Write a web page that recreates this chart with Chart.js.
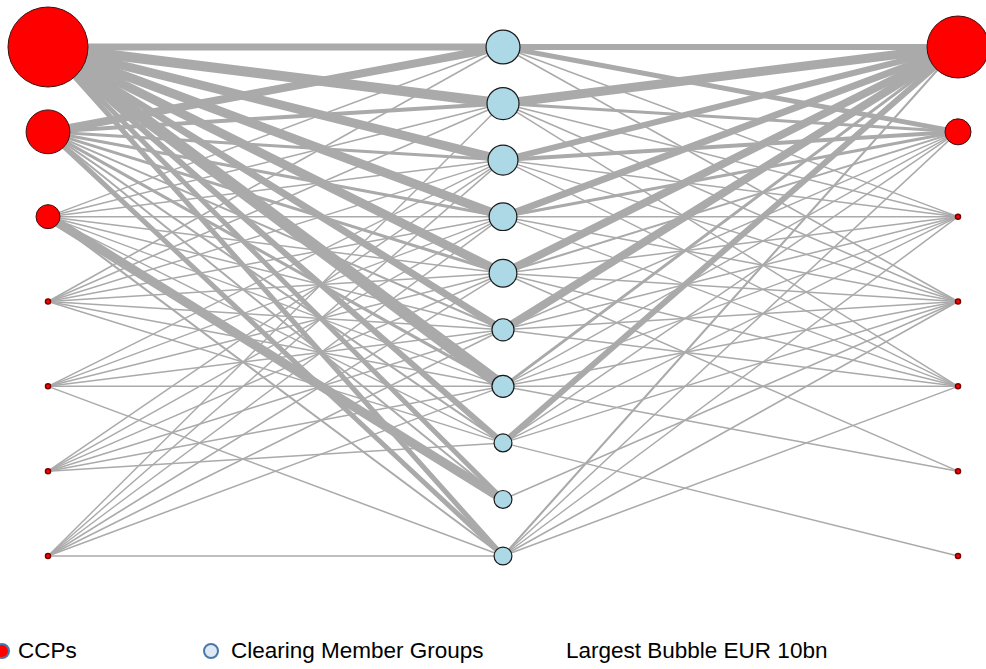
<!DOCTYPE html>
<html>
<head>
<meta charset="utf-8">
<script src="https://cdn.jsdelivr.net/npm/chart.js@4"></script>
<style>
  html, body { margin: 0; padding: 0; background: #fff; }
  #wrap { position: relative; width: 986px; height: 669px; overflow: hidden; }
  #net { position: absolute; left: 0; top: 0; }
  .lg { position: absolute; top: 639px; font-family: "Liberation Sans", Arial, sans-serif; font-size: 22.5px; color: #000; white-space: nowrap; line-height: 24px; }
  .dot { position: absolute; top: 643px; width: 16px; height: 16px; border-radius: 50%; box-sizing: border-box; border: 2px solid #4a78a8; }
</style>
</head>
<body>
<div id="wrap">
  <canvas id="net" width="986" height="600"></canvas>
  <div class="dot" style="left:-6px; background:#ff0000;"></div>
  <div class="lg" style="left:18px;">CCPs</div>
  <div class="dot" style="left:203px; background:#dfe9f5;"></div>
  <div class="lg" style="left:231px;">Clearing Member Groups</div>
  <div class="lg" style="left:566px;">Largest Bubble EUR 10bn</div>
</div>
<script>
// node sizes, EUR bn (largest bubble = 10bn)
const leftCCPs = [10, 3.0, 0.9, 0.04, 0.04, 0.04, 0.04];
const memberGroups = [1.8, 1.6, 1.4, 1.2, 1.2, 0.76, 0.76, 0.5, 0.5, 0.5];
const rightCCPs = [6.0, 1.06, 0.04, 0.04, 0.04, 0.04, 0.04];

// link weights, rows = CCP, columns = clearing member group (0 = no link)
const leftLinks = [
  [7, 10, 9, 9, 9, 7, 12, 6, 5, 5],
  [8, 4, 3, 3, 3, 2, 3, 2, 2, 5],
  [1.5, 1.5, 1.5, 1.5, 1.5, 1.5, 1.5, 1.5, 9, 2],
  [1.5, 1.5, 1.5, 1.5, 1.5, 1.5, 1.5, 1.5, 0, 0],
  [0, 0, 1.5, 1.5, 1.5, 1.5, 1.5, 0, 0, 1.5],
  [0, 0, 1.5, 1.5, 1.5, 1.5, 1.5, 1.5, 0, 0],
  [0, 1.5, 1.5, 1.5, 1.5, 1.5, 1.5, 0, 0, 1.5]
];
const rightLinks = [
  [6, 9, 6, 7, 8, 8, 3, 6, 0, 2],
  [5, 3, 4, 3, 2, 1.5, 1.5, 1.5, 0, 1.5],
  [1.5, 1.5, 1.5, 1.5, 1.5, 1.5, 1.5, 1.5, 0, 1.5],
  [1.5, 1.5, 1.5, 1.5, 1.5, 1.5, 1.5, 1.5, 1.5, 1.5],
  [0, 1.5, 1.5, 1.5, 1.5, 1.5, 1.5, 0, 0, 1.5],
  [0, 0, 0, 0, 1.5, 0, 1.5, 0, 0, 0],
  [0, 0, 0, 0, 0, 0, 0, 1.5, 0, 0]
];

const EDGE = "#aaaaaa";
const ccpRow = i => i * 1.5;   // 7 CCP rows spread over the 10 member rows
const radius = v => 40 * Math.sqrt(v / 10);

const datasets = [];

// ===== Links =====
function addLinks(links, side) {
  links.forEach((row, i) => {
    row.forEach((w, j) => {
      if (!w) return;
      datasets.push({
        type: "line",
        data: [{ x: side, y: ccpRow(i) }, { x: 1, y: j }],
        borderColor: EDGE,
        borderWidth: w,
        pointRadius: 0,
        fill: false,
        clip: false,
        order: 2
      });
    });
  });
}
addLinks(leftLinks, 0);
addLinks(rightLinks, 2);

// ===== Nodes =====
const ccpNodes = leftCCPs.map((v, i) => ({ x: 0, y: ccpRow(i), r: radius(v) }))
  .concat(rightCCPs.map((v, i) => ({ x: 2, y: ccpRow(i), r: radius(v) })));
datasets.push({
  type: "bubble",
  data: ccpNodes,
  backgroundColor: "#ff0000",
  borderColor: ccpNodes.map(n => n.r < 4 ? "#7a0000" : "#3a1010"),
  borderWidth: ccpNodes.map(n => n.r < 4 ? 1.5 : 1),
  clip: false,
  order: 0
});
datasets.push({
  type: "bubble",
  data: memberGroups.map((v, j) => ({ x: 1, y: j, r: radius(v) })),
  backgroundColor: "#add8e6",
  borderColor: "#1a1a1a",
  borderWidth: 1.2,
  clip: false,
  order: 0
});

new Chart(document.getElementById("net"), {
  type: "scatter",
  data: { datasets },
  options: {
    responsive: false,
    animation: false,
    events: [],
    layout: { autoPadding: false, padding: { left: 48, right: 28, top: 47, bottom: 44 } },
    plugins: { legend: { display: false }, tooltip: { enabled: false } },
    scales: {
      x: { type: "linear", min: 0, max: 2, display: false },
      y: { type: "linear", min: 0, max: 9, reverse: true, display: false }
    }
  }
});
</script>
</body>
</html>
